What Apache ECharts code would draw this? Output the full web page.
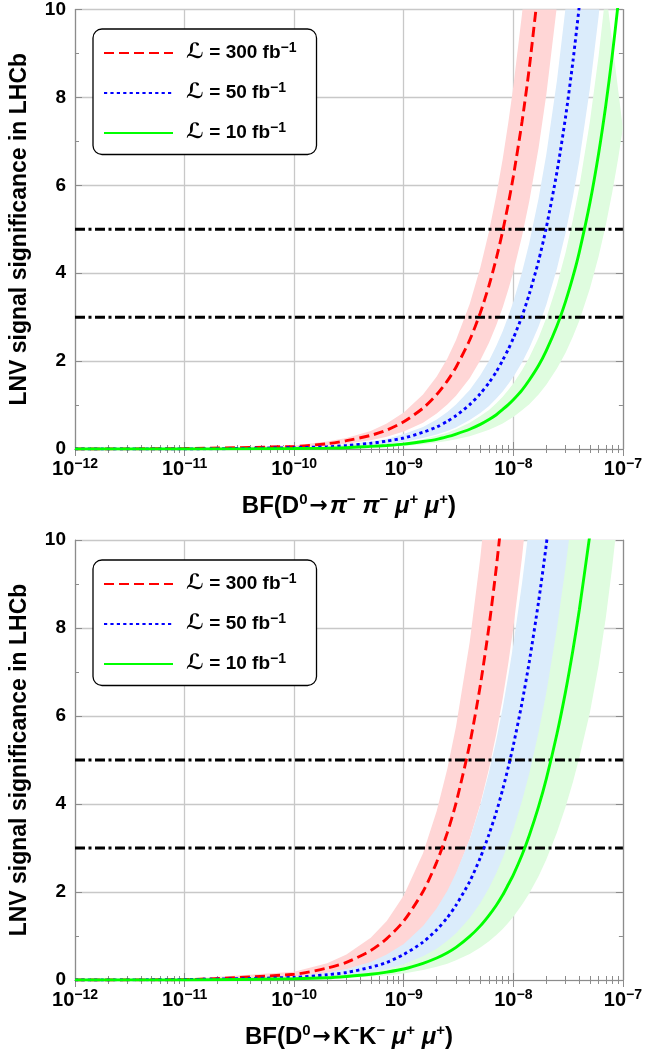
<!DOCTYPE html>
<html><head><meta charset="utf-8">
<script src="https://cdn.jsdelivr.net/npm/echarts@6/dist/echarts.min.js"></script>
<style>html,body{margin:0;padding:0;background:#fff}#c{width:645px;height:1059px}</style>
</head><body><div id="c"></div>
<script>
// Branching fraction grid (x values shared by every curve)
const bf = [1e-12, 1e-11, 1e-10, 2e-10, 3e-10, 5e-10, 7e-10, 1e-9, 1.5e-9, 2e-9, 2.5e-9, 3e-9, 4e-9, 5e-9, 6e-9, 7e-9, 8e-9, 9e-9, 1e-8, 1.2e-8, 1.4e-8, 1.7e-8, 2e-8, 2.5e-8, 3e-8, 3.5e-8, 4e-8, 5e-8, 6e-8, 7e-8, 8e-8, 9e-8, 1e-7];

// Top panel: D0 -> pi- pi- mu+ mu+
const piRedMid   = [0, 0.01, 0.06, 0.12, 0.19, 0.31, 0.43, 0.62, 0.93, 1.24, 1.55, 1.86, 2.48, 3.10, 3.72, 4.34, 4.96, 5.58, 6.20, 7.44, 8.68, 10.54];
const piRedUp    = [0, 0.01, 0.08, 0.17, 0.25, 0.41, 0.58, 0.83, 1.24, 1.65, 2.06, 2.48, 3.30, 4.13, 4.95, 5.78, 6.60, 7.43, 8.25, 9.90, 11.55];
const piRedLow   = [0, 0, 0.04, 0.08, 0.12, 0.20, 0.28, 0.40, 0.60, 0.81, 1.01, 1.21, 1.61, 2.02, 2.42, 2.82, 3.22, 3.63, 4.03, 4.84, 5.64, 6.85, 8.06, 10.08];
const piBlueMid  = [0, 0, 0.03, 0.05, 0.08, 0.13, 0.18, 0.25, 0.38, 0.50, 0.63, 0.76, 1.01, 1.26, 1.51, 1.76, 2.02, 2.27, 2.52, 3.02, 3.53, 4.28, 5.04, 6.30, 7.56, 8.82, 10.08];
const piBlueUp   = [0, 0, 0.03, 0.07, 0.10, 0.17, 0.23, 0.34, 0.50, 0.67, 0.84, 1.01, 1.34, 1.68, 2.01, 2.35, 2.68, 3.02, 3.35, 4.02, 4.69, 5.70, 6.70, 8.38, 10.05];
const piBlueLow  = [0, 0, 0.02, 0.03, 0.05, 0.08, 0.11, 0.16, 0.25, 0.33, 0.41, 0.49, 0.66, 0.82, 0.98, 1.15, 1.31, 1.48, 1.64, 1.97, 2.30, 2.79, 3.28, 4.10, 4.92, 5.74, 6.56, 8.20, 9.84, 11.48];
const piGreenMid = [0, 0, 0.01, 0.02, 0.03, 0.06, 0.08, 0.11, 0.17, 0.22, 0.28, 0.34, 0.45, 0.56, 0.67, 0.78, 0.90, 1.01, 1.12, 1.34, 1.57, 1.90, 2.24, 2.80, 3.36, 3.92, 4.48, 5.60, 6.72, 7.84, 8.96, 10.08, 11.20];
const piGreenUp  = [0, 0, 0.01, 0.03, 0.04, 0.07, 0.10, 0.15, 0.22, 0.30, 0.37, 0.45, 0.60, 0.75, 0.89, 1.04, 1.19, 1.34, 1.49, 1.79, 2.09, 2.53, 2.98, 3.73, 4.47, 5.22, 5.96, 7.45, 8.94, 10.43];
const piGreenLow = [0, 0, 0.01, 0.01, 0.02, 0.04, 0.05, 0.07, 0.11, 0.15, 0.18, 0.22, 0.29, 0.37, 0.44, 0.51, 0.58, 0.66, 0.73, 0.88, 1.02, 1.24, 1.46, 1.83, 2.19, 2.56, 2.92, 3.65, 4.38, 5.11, 5.84, 6.57, 7.30];

// Bottom panel: D0 -> K- K- mu+ mu+
const kRedMid   = [0, 0.01, 0.13, 0.27, 0.40, 0.67, 0.94, 1.34, 2.01, 2.68, 3.35, 4.02, 5.36, 6.70, 8.04, 9.38, 10.72];
const kRedUp    = [0, 0.02, 0.19, 0.38, 0.58, 0.96, 1.34, 1.92, 2.88, 3.84, 4.80, 5.76, 7.68, 9.60, 11.52];
const kRedLow   = [0, 0.01, 0.08, 0.16, 0.24, 0.40, 0.56, 0.80, 1.20, 1.60, 2.00, 2.40, 3.20, 4.00, 4.80, 5.60, 6.40, 7.20, 8.00, 9.60, 11.20];
const kBlueMid  = [0, 0.01, 0.06, 0.12, 0.17, 0.29, 0.40, 0.58, 0.86, 1.14, 1.42, 1.70, 2.24, 2.78, 3.31, 3.82, 4.33, 4.84, 5.33, 6.30, 7.24, 8.60, 9.90, 11.97];
const kBlueUp   = [0, 0.01, 0.08, 0.17, 0.25, 0.41, 0.58, 0.82, 1.23, 1.63, 2.03, 2.43, 3.20, 3.97, 4.73, 5.46, 6.19, 6.92, 7.62, 9.01, 10.35];
const kBlueLow  = [0, 0, 0.03, 0.07, 0.10, 0.17, 0.24, 0.35, 0.52, 0.68, 0.85, 1.02, 1.34, 1.67, 1.98, 2.29, 2.60, 2.90, 3.20, 3.78, 4.34, 5.16, 5.94, 7.18, 8.36, 9.47, 10.53];
const kGreenMid = [0, 0, 0.03, 0.05, 0.08, 0.13, 0.18, 0.25, 0.38, 0.50, 0.62, 0.74, 0.99, 1.23, 1.47, 1.70, 1.93, 2.17, 2.39, 2.84, 3.29, 3.94, 4.57, 5.59, 6.56, 7.50, 8.41, 10.13];
const kGreenUp  = [0, 0, 0.04, 0.07, 0.11, 0.18, 0.25, 0.36, 0.54, 0.71, 0.89, 1.06, 1.41, 1.75, 2.09, 2.43, 2.77, 3.10, 3.42, 4.07, 4.70, 5.63, 6.53, 7.99, 9.39, 10.73];
const kGreenLow = [0, 0, 0.02, 0.03, 0.05, 0.08, 0.11, 0.15, 0.23, 0.30, 0.37, 0.45, 0.59, 0.74, 0.88, 1.02, 1.16, 1.30, 1.44, 1.71, 1.97, 2.36, 2.74, 3.35, 3.94, 4.50, 5.05, 6.08, 7.15, 8.25, 9.40, 10.55, 11.70];

const lumis = ['300', '50', '10'];            // legend luminosities (fb^-1)
const thresholds = [3, 5];                     // dash-dot significance lines
const xDecades = [-12, -11, -10, -9, -8, -7];  // x tick exponents
const yTicks = [0, 2, 4, 6, 8, 10];
const yMinor = [1, 3, 5, 7, 9];

const FONT = '"Liberation Sans", Arial, "DejaVu Sans", sans-serif';
const FRAME = '#8c8c8c';
const GRIDC = '#c8c8c8';
const xMin = Math.pow(10, xDecades[0]), xMax = Math.pow(10, xDecades[xDecades.length - 1]);
const xMinor = [];
xDecades.slice(0, -1).forEach(d => { for (let m = 2; m <= 9; m++) xMinor.push(m * Math.pow(10, d)); });

const styles = [
  { color: '#ff0000', type: [10, 5], band: '#ffd6d6' },
  { color: '#0000ff', type: [3.2, 3.2], band: '#dbecfb' },
  { color: '#00ff00', type: 'solid', band: '#dffcdf' }
];

const grids = [
  { left: 73, right: 21, top: 9, height: 440 },
  { left: 73, right: 21, top: 540, height: 440 }
];

const xNames = [
  '{n|BF(D}{p|0}{a|→}{i|π}{p|−}{i| π}{p|−}{i| μ}{p|+}{i| μ}{p|+}{n|)}',
  '{n|BF(D}{p|0}{a|→}{n|K}{p|−}{n|K}{p|−}{i| μ}{p|+}{i| μ}{p|+}{n|)}'
];

const xAxes = [], yAxes = [];
grids.forEach((g, gi) => {
  const base = { type: 'log', logBase: 10, min: xMin, max: xMax, gridIndex: gi, splitLine: { show: false }, axisLabel: { show: false } };
  xAxes.push(Object.assign({}, base, {
    position: 'bottom',
    axisLine: { show: true, lineStyle: { color: FRAME, width: 1.2 } },
    axisTick: { show: true, inside: true, length: 7, lineStyle: { color: FRAME, width: 1 } },
    splitLine: { show: true, lineStyle: { color: GRIDC, width: 1.3 } },
    axisLabel: {
      show: true, margin: 8,
      formatter: v => '{b|10}{s|−' + Math.abs(Math.round(Math.log10(v))) + '}',
      rich: {
        b: { fontFamily: FONT, fontWeight: 'bold', fontSize: 20, color: '#000', lineHeight: 24 },
        s: { fontFamily: FONT, fontWeight: 'bold', fontSize: 14, color: '#000', lineHeight: 14, verticalAlign: 'top' }
      }
    },
    name: xNames[gi], nameLocation: 'middle', nameGap: 43,
    nameTextStyle: {
      rich: {
        n: { fontFamily: FONT, fontWeight: 'bold', fontSize: 24, color: '#000', lineHeight: 28 },
        a: { fontFamily: '"DejaVu Sans", sans-serif', fontWeight: 'bold', fontSize: 22, color: '#000', lineHeight: 28, padding: [0, 2, 0, 2] },
        i: { fontFamily: FONT, fontWeight: 'bold', fontStyle: 'italic', fontSize: 24, color: '#000', lineHeight: 28 },
        p: { fontFamily: FONT, fontWeight: 'bold', fontSize: 15, color: '#000', lineHeight: 15, verticalAlign: 'top' }
      }
    }
  }));
  xAxes.push(Object.assign({}, base, {
    position: 'bottom', axisLine: { show: false },
    axisTick: { show: true, inside: true, length: 4, customValues: xMinor, lineStyle: { color: FRAME, width: 1 } }
  }));
  xAxes.push(Object.assign({}, base, {
    position: 'top',
    axisLine: { show: true, lineStyle: { color: FRAME, width: 1.2 } },
    axisTick: { show: true, inside: true, length: 7, lineStyle: { color: FRAME, width: 1 } }
  }));
  xAxes.push(Object.assign({}, base, {
    position: 'top', axisLine: { show: false },
    axisTick: { show: true, inside: true, length: 4, customValues: xMinor, lineStyle: { color: FRAME, width: 1 } }
  }));

  const ybase = { type: 'value', min: yTicks[0], max: yTicks[yTicks.length - 1], interval: 2, gridIndex: gi, splitLine: { show: false }, axisLabel: { show: false } };
  yAxes.push(Object.assign({}, ybase, {
    position: 'left',
    axisLine: { show: true, lineStyle: { color: FRAME, width: 1.2 } },
    axisTick: { show: true, inside: true, length: 7, lineStyle: { color: FRAME, width: 1 } },
    splitLine: { show: true, lineStyle: { color: GRIDC, width: 1.3 } },
    axisLabel: { show: true, margin: 9, fontFamily: FONT, fontWeight: 'bold', fontSize: 19, color: '#000' },
    name: 'LNV signal significance in LHCb', nameLocation: 'middle', nameGap: 44, nameRotate: 90,
    nameTextStyle: { fontFamily: FONT, fontWeight: 'bold', fontSize: 23, color: '#000' }
  }));
  yAxes.push(Object.assign({}, ybase, {
    position: 'left', axisLine: { show: false },
    axisTick: { show: true, inside: true, length: 4, customValues: yMinor, lineStyle: { color: FRAME, width: 1 } }
  }));
  yAxes.push(Object.assign({}, ybase, {
    position: 'right',
    axisLine: { show: true, lineStyle: { color: FRAME, width: 1.2 } },
    axisTick: { show: true, inside: true, length: 7, lineStyle: { color: FRAME, width: 1 } }
  }));
  yAxes.push(Object.assign({}, ybase, {
    position: 'right', axisLine: { show: false },
    axisTick: { show: true, inside: true, length: 4, customValues: yMinor, lineStyle: { color: FRAME, width: 1 } }
  }));
});

function pairs(arr) { return arr.map((y, i) => [bf[i], y]); }

function bandSeries(gi, lo, up, color) {
  return {
    type: 'custom', xAxisIndex: gi * 4, yAxisIndex: gi * 4, silent: true, z: 1,
    data: [[1e-10, 1]],
    renderItem: function (params, api) {
      const pts = [];
      for (let i = 0; i < lo.length; i++) pts.push(api.coord([bf[i], lo[i]]));
      for (let i = up.length - 1; i >= 0; i--) pts.push(api.coord([bf[i], up[i]]));
      const cs = params.coordSys;
      return {
        type: 'polygon', shape: { points: pts },
        style: { fill: color, stroke: null },
        clipPath: { type: 'rect', shape: { x: cs.x, y: cs.y, width: cs.width, height: cs.height } }
      };
    }
  };
}

function lineSeries(gi, name, arr, st) {
  return {
    type: 'line', name: name, xAxisIndex: gi * 4, yAxisIndex: gi * 4,
    data: pairs(arr), symbol: 'none', smooth: 0.25, z: 4, silent: true,
    lineStyle: { color: st.color, width: 2.9, type: st.type, cap: 'butt' },
    itemStyle: { color: st.color }
  };
}

const panels = [
  { mids: [piRedMid, piBlueMid, piGreenMid], ups: [piRedUp, piBlueUp, piGreenUp], lows: [piRedLow, piBlueLow, piGreenLow] },
  { mids: [kRedMid, kBlueMid, kGreenMid], ups: [kRedUp, kBlueUp, kGreenUp], lows: [kRedLow, kBlueLow, kGreenLow] }
];

const series = [];
panels.forEach((p, gi) => {
  for (let k = 0; k < 3; k++) series.push(bandSeries(gi, p.lows[k], p.ups[k], styles[k].band));
  thresholds.forEach(t => series.push({
    type: 'line', xAxisIndex: gi * 4, yAxisIndex: gi * 4, silent: true, z: 3, symbol: 'none',
    data: [[xMin, t], [xMax, t]],
    lineStyle: { color: '#000', width: 3, type: [10, 3.5, 3, 3.5] }
  }));
  for (let k = 0; k < 3; k++) series.push(lineSeries(gi, lumis[k], p.mids[k], styles[k]));
});

const legendRich = {
  l: { fontFamily: '"DejaVu Sans", sans-serif', fontWeight: 'bold', fontSize: 21, color: '#000', padding: [0, 0, 0, 8], lineHeight: 24 },
  t: { fontFamily: FONT, fontWeight: 'bold', fontSize: 19, color: '#000', lineHeight: 24 },
  s: { fontFamily: FONT, fontWeight: 'bold', fontSize: 14, color: '#000', lineHeight: 14, verticalAlign: 'top' }
};
const legends = grids.map(g => ({
  orient: 'vertical', left: 93, top: g.top + 20,
  data: lumis, itemWidth: 69, itemHeight: 14, itemGap: 17.5,
  padding: [12, 20, 11, 10],
  backgroundColor: '#fff', borderColor: '#000', borderWidth: 1.3, borderRadius: 9,
  selectedMode: false,
  itemStyle: { color: 'rgba(0,0,0,0)', borderColor: 'rgba(0,0,0,0)', borderWidth: 0, opacity: 0 },
  formatter: n => '{l|ℒ}{t| = ' + n + ' fb}{s|−1}',
  textStyle: { rich: legendRich }
}));

const chart = echarts.init(document.getElementById('c'), null, { renderer: 'canvas' });
chart.setOption({
  animation: false,
  backgroundColor: '#fff',
  grid: grids,
  xAxis: xAxes,
  yAxis: yAxes,
  legend: legends,
  series: series
});
</script></body></html>
